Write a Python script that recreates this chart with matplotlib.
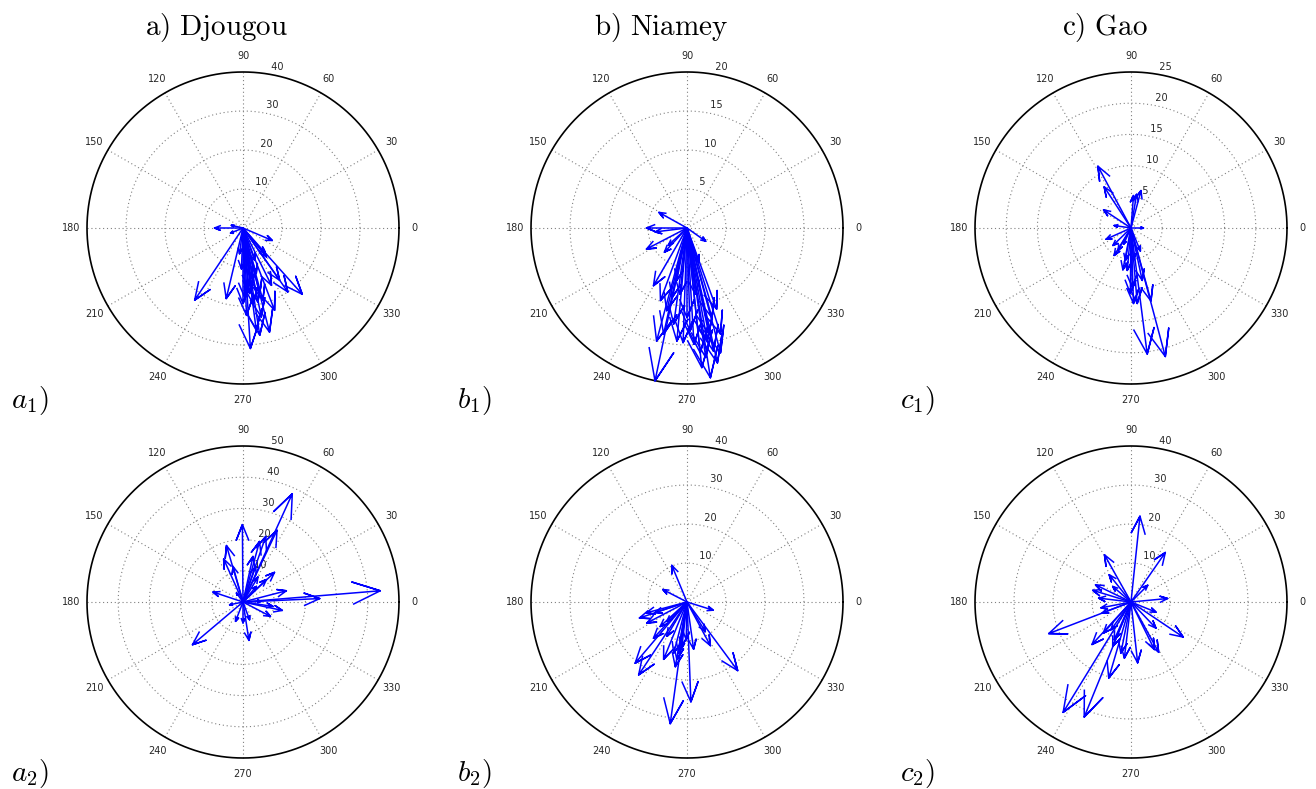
import numpy as np
import matplotlib
matplotlib.use('Agg')
import matplotlib.pyplot as plt

plt.rcParams['mathtext.fontset'] = 'cm'

# arrow components (u, v), one pair of lists per panel
a1_u = [-7.3, -3.0, -3.2, 7.5, -12.4, -4.3, 15.2, 11.5, 9.4, 8.1, 6.8, 1.9, 4.3, 3.4,
        0.9, 0.0, 2.6, 3.8, 4.3, 1.7, 3.4, 5.6, 3.0, 0.9, -0.9, 2.6, 5.1, 1.3, 4.7, 7.3,
        6.0, 0.4, -0.4, 2.0]
a1_v = [0.0, 0.7, -1.3, -3.2, -18.5, -18.1, -17.0, -16.4, -13.4, -21.1, -26.7, -30.9, -27.5, -26.2,
        -22.4, -19.4, -19.4, -19.0, -16.8, -16.8, -11.7, -6.6, -8.3, -7.4, -6.6, -13.4, -18.5, -15.1, -22.8, -14.7,
        -7.4, -17.7, -10.5, -12.5]

b1_u = [-3.6, -5.2, -4.1, -5.2, -2.9, -2.4, 2.4, -4.3, -3.4, -1.3, -0.9, 1.5, 3.8, -3.9,
        -3.0, -1.7, -0.5, -4.1, 3.0, 1.9, 3.9, 4.3, 2.8, 3.2, 0.9, 1.7, 2.4, 0.4, 1.1, 0.0,
        2.6, 3.4, -2.6, -1.9, 4.3, -1.3]
b1_v = [2.0, 0.0, -0.5, -2.7, -3.1, -2.2, -1.7, -7.4, -9.3, -6.7, -8.5, -4.4, -10.4, -14.5,
        -13.6, -12.3, -14.7, -19.6, -19.2, -17.9, -17.3, -16.0, -13.6, -11.5, -14.9, -16.0, -16.6, -13.2, -8.5, -11.5,
        -14.5, -15.8, -10.6, -8.9, -13.6, -14.5]

c1_u = [-5.3, -4.3, -4.4, 1.6, 0.4, 0.9, 2.0, -2.7, -4.0, -2.9, -2.7, -1.3, 1.5, -0.1,
        0.4, 1.0, 3.2, 2.6, 5.5, -0.6, -0.9, -2.1, 0.4, 1.8, 0.2, -1.2]
c1_v = [9.9, 6.6, 2.9, 6.0, 5.2, 5.4, 0.0, 0.4, -1.8, -2.8, -4.4, -6.7, -3.7, -10.5,
        -12.1, -12.1, -11.7, -20.2, -20.6, -6.8, -5.2, -3.6, -5.2, -8.4, -9.5, -2.6]

a2_u = [44.0, 24.6, 15.8, 10.9, 7.3, 5.3, -0.2, -5.3, -6.2, 10.1, 13.9, 12.6, 8.8, -9.6,
        -16.2, 1.9, -2.4, 0.0, 2.1, -4.3, 7.5, 4.8, 4.1, -3.2, 4.3, -2.1, 9.6, 5.9, 3.2]
a2_v = [3.6, 1.1, 34.7, 23.0, 21.0, 19.4, 24.8, 18.1, 13.8, 9.5, 3.6, -2.7, -4.6, 3.2,
        -13.7, -12.3, -6.2, -6.7, -5.7, -0.9, 7.2, 8.0, 11.4, 11.4, 5.0, 2.9, -1.4, 0.2, 14.6]

b2_u = [-3.9, -6.2, 6.7, -12.2, -10.5, -8.2, -8.6, -13.3, -12.4, -6.0, -4.3, 1.0, 13.0, 6.0,
        1.7, -3.0, -2.1, -5.2, 4.7, -6.9, -1.3, -3.4, -5.2, -10.3, -0.2, -2.6]
b2_v = [9.4, 3.2, -2.1, -4.1, -2.8, -2.7, -9.3, -15.7, -18.7, -14.7, -31.2, -25.6, -17.6, -11.2,
        -12.1, -16.6, -13.1, -8.8, -7.6, -6.3, -11.4, -13.1, -5.0, -5.4, -9.7, -14.8]

c2_u = [2.3, 8.8, -6.8, -5.6, -9.1, -9.8, -8.3, 9.4, -21.1, -7.4, -10.0, -17.4, -12.0, -5.7,
        1.7, -1.7, 7.1, 13.4, 6.4, 6.4, -4.7, -4.3, -2.6, -7.1, 6.0, -5.1, -4.7, -7.7, 4.3]
c2_v = [22.0, 12.7, 12.1, 7.0, 4.4, 3.0, 1.0, 0.9, -8.1, -2.8, -10.9, -28.3, -29.5, -19.5,
        -15.6, -14.4, -12.9, -9.0, -6.7, -2.6, -11.4, -9.7, -13.1, -8.0, -12.2, -7.1, 4.0, -1.5, 4.3]

titles = ['a) Djougou', 'b) Niamey', 'c) Gao']
row_labels = [['a_1', 'b_1', 'c_1'], ['a_2', 'b_2', 'c_2']]
rmax_list = [[40, 20, 25], [50, 40, 40]]
rticks_list = [[4, 4, 5], [5, 4, 4]]
panels = [[(a1_u, a1_v), (b1_u, b1_v), (c1_u, c1_v)],
          [(a2_u, a2_v), (b2_u, b2_v), (c2_u, c2_v)]]

W, H = 1316, 789
fig = plt.figure(figsize=(W / 100, H / 100), dpi=100)

centers_x = [243, 687, 1131]
centers_y = [228, 602]
R = 156  # circle radius in pixels
half = 1.2 * R
grid_ls = (0, (1, 2.5))


def compass_panel(ax, u, v, rmax, nticks):
    t = np.linspace(0, 2 * np.pi, 361)
    rinc = rmax / nticks
    # spokes
    for k in range(6):
        th = k * np.pi / 6
        ax.plot([-rmax * np.cos(th), rmax * np.cos(th)], [-rmax * np.sin(th), rmax * np.sin(th)],
                ls=grid_ls, color='0.5', lw=0.8, zorder=1)
    # rings + radius labels
    c82, s82 = np.cos(np.radians(82)), np.sin(np.radians(82))
    for i in range(1, nticks + 1):
        r = i * rinc
        if i < nticks:
            ax.plot(r * np.cos(t), r * np.sin(t), ls=grid_ls, color='0.5', lw=0.8, zorder=1)
        ax.text((r + rinc / 20) * c82, (r + rinc / 20) * s82, '  ' + str(int(r)),
                ha='left', va='bottom', fontsize=7, color='0.15')
    ax.plot(rmax * np.cos(t), rmax * np.sin(t), color='black', lw=1.2, zorder=2)
    # angle labels
    rt = 1.1 * rmax
    for k in range(12):
        th = np.radians(k * 30)
        ax.text(rt * np.cos(th), rt * np.sin(th), str(k * 30), ha='center', va='center',
                fontsize=7, color='0.15')
    # arrows like MATLAB compass
    for uu, vv in zip(u, v):
        z = complex(uu, vv)
        shape = np.array([0, 1, 0.8 + 0.08j, 1, 0.8 - 0.08j]) * z
        ax.plot(shape.real, shape.imag, color='#0000ff', lw=1.1, zorder=3)
    ax.set_xlim(-1.2 * rmax, 1.2 * rmax)
    ax.set_ylim(-1.2 * rmax, 1.2 * rmax)
    ax.axis('off')


for row in range(2):
    for col in range(3):
        cx, cy = centers_x[col], centers_y[row]
        ax = fig.add_axes([(cx - half) / W, (H - cy - half) / H, 2 * half / W, 2 * half / H])
        u, v = panels[row][col]
        compass_panel(ax, u, v, rmax_list[row][col], rticks_list[row][col])
        fig.text((cx - 213) / W, 1 - (cy + 172) / H, '$' + row_labels[row][col] + ')$',
                 fontsize=21, ha='center', va='center')

for col in range(3):
    fig.text((centers_x[col] - 26) / W, 1 - 27 / H, r'$\mathrm{' + titles[col].replace(' ', r'\ ') + '}$',
             fontsize=21, ha='center', va='center')

plt.savefig('out.png', dpi=100)
